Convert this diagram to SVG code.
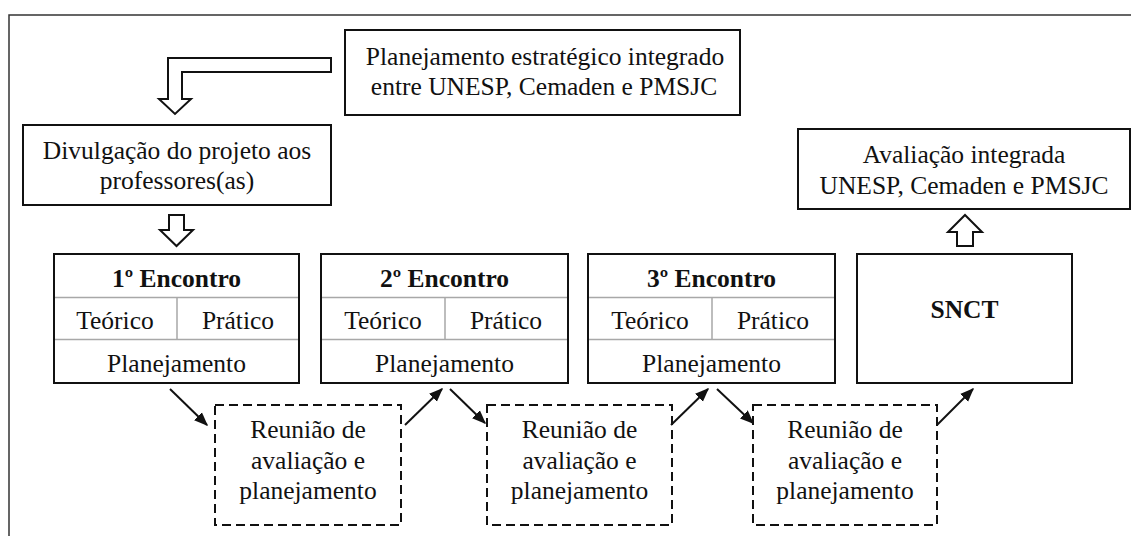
<svg xmlns="http://www.w3.org/2000/svg" width="1131" height="536" viewBox="0 0 1131 536">
<defs>
<style>
.t{font-family:'Liberation Serif','Times New Roman',serif;font-size:25.5px;fill:#111;text-anchor:middle}
.b{font-weight:bold}
.box{fill:#fff;stroke:#111;stroke-width:2}
.dash{fill:#fff;stroke:#111;stroke-width:2;stroke-dasharray:9 5}
.grid{stroke:#a8a8a8;stroke-width:1.5;fill:none}
.blk{fill:#fff;stroke:#111;stroke-width:2;stroke-linejoin:miter}
.con{stroke:#111;stroke-width:2;fill:none}
</style>
<marker id="ah" viewBox="0 0 10 10" refX="9" refY="5" markerWidth="7" markerHeight="7" markerUnits="strokeWidth" orient="auto">
<path d="M0,1 L10,5 L0,9 Z" fill="#111"/>
</marker>
</defs>
<rect width="1131" height="536" fill="#fff"/>
<path d="M9,536 V15 H1131" fill="none" stroke="#333" stroke-width="1.5"/>

<g id="planejamento-estrategico">
<rect class="box" x="345" y="30" width="395" height="85"/>
<text class="t" x="545" y="65">Planejamento estratégico integrado</text>
<text class="t" x="544" y="95">entre UNESP, Cemaden e PMSJC</text>
</g>

<g id="divulgacao">
<rect class="box" x="23" y="125" width="308" height="80"/>
<text class="t" x="177" y="159">Divulgação do projeto aos</text>
<text class="t" x="177" y="189">professores(as)</text>
</g>

<g id="encontro1">
<rect class="box" x="54" y="254" width="245" height="129"/>
<path class="grid" d="M55,297.5 H298 M55,339.5 H298 M177,297.5 V339.5"/>
<text class="t b" x="176.5" y="287">1º Encontro</text>
<text class="t" x="115" y="329">Teórico</text>
<text class="t" x="238" y="329">Prático</text>
<text class="t" x="176.5" y="372">Planejamento</text>
</g>

<g id="encontro2">
<rect class="box" x="321" y="254" width="247" height="129"/>
<path class="grid" d="M322,297.5 H567 M322,339.5 H567 M445,297.5 V339.5"/>
<text class="t b" x="444.5" y="287">2º Encontro</text>
<text class="t" x="383" y="329">Teórico</text>
<text class="t" x="506" y="329">Prático</text>
<text class="t" x="444.5" y="372">Planejamento</text>
</g>

<g id="encontro3">
<rect class="box" x="588" y="254" width="247" height="129"/>
<path class="grid" d="M589,297.5 H834 M589,339.5 H834 M712,297.5 V339.5"/>
<text class="t b" x="711.5" y="287">3º Encontro</text>
<text class="t" x="650" y="329">Teórico</text>
<text class="t" x="773" y="329">Prático</text>
<text class="t" x="711.5" y="372">Planejamento</text>
</g>

<g id="snct">
<rect class="box" x="857" y="254" width="215" height="129"/>
<text class="t b" x="964.5" y="318">SNCT</text>
</g>

<g id="avaliacao-integrada">
<rect class="box" x="798" y="129" width="332" height="80"/>
<text class="t" x="964" y="163">Avaliação integrada</text>
<text class="t" x="964" y="194">UNESP, Cemaden e PMSJC</text>
</g>

<g id="reuniao1">
<rect class="dash" x="215" y="405" width="186" height="120"/>
<text class="t" x="308" y="438">Reunião de</text>
<text class="t" x="308" y="468.5">avaliação e</text>
<text class="t" x="308" y="499">planejamento</text>
</g>

<g id="reuniao2">
<rect class="dash" x="487" y="405" width="185" height="120"/>
<text class="t" x="579.5" y="438">Reunião de</text>
<text class="t" x="579.5" y="468.5">avaliação e</text>
<text class="t" x="579.5" y="499">planejamento</text>
</g>

<g id="reuniao3">
<rect class="dash" x="753" y="405" width="184" height="120"/>
<text class="t" x="845" y="438">Reunião de</text>
<text class="t" x="845" y="468.5">avaliação e</text>
<text class="t" x="845" y="499">planejamento</text>
</g>

<g id="connectors">
<polygon class="blk" points="331,58 168,58 168,99 159,99 175,114 191,99 182,99 182,72 331,72"/>
<polygon class="blk" points="169,215 184,215 184,230 193,230 176.5,246 160,230 169,230"/>
<polygon class="blk" points="957,246 973,246 973,232 982,232 965,215 948,232 957,232"/>
<line class="con" x1="170" y1="389" x2="207" y2="425" marker-end="url(#ah)"/>
<line class="con" x1="405" y1="425" x2="442" y2="389" marker-end="url(#ah)"/>
<line class="con" x1="450" y1="389" x2="485" y2="423" marker-end="url(#ah)"/>
<line class="con" x1="671" y1="425" x2="708" y2="389" marker-end="url(#ah)"/>
<line class="con" x1="717" y1="389" x2="753" y2="423" marker-end="url(#ah)"/>
<line class="con" x1="937" y1="425" x2="973" y2="389" marker-end="url(#ah)"/>
</g>
</svg>
